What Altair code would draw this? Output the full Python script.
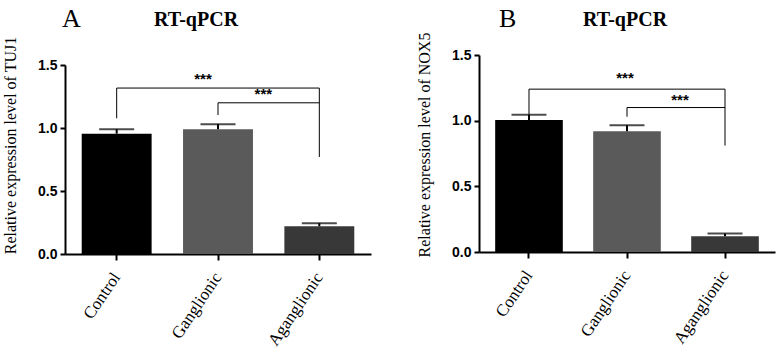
import altair as alt
import pandas as pd

categories = ["Control", "Ganglionic", "Aganglionic"]
bar_colors = ["#000000", "#5a5a5a", "#383838"]

tuj1_mean = [0.955, 0.99, 0.22]
tuj1_err = [0.035, 0.04, 0.025]
nox5_mean = [1.005, 0.92, 0.12]
nox5_err = [0.04, 0.045, 0.02]

# significance brackets: (from, to, height)
tuj1_bracket_h = [("Control", "Aganglionic", 1.317), ("Ganglionic", "Aganglionic", 1.20)]
tuj1_bracket_v = [("Control", 1.077, 1.317), ("Aganglionic", 0.77, 1.317), ("Ganglionic", 1.103, 1.20)]
tuj1_stars = [1.39, 1.27]

nox5_bracket_h = [("Control", "Aganglionic", 1.24), ("Ganglionic", "Aganglionic", 1.10)]
nox5_bracket_v = [("Control", 1.044, 1.24), ("Aganglionic", 0.81, 1.24), ("Ganglionic", 1.03, 1.10)]
nox5_stars = [1.325, 1.158]

SERIF = "Liberation Serif"
SANS = "Liberation Sans"


def panel(mean, err, bh, bv, stars, ytitle, letter, width, height, yrange, title_y, star_dx, title_dx):
    df = pd.DataFrame({"cat": categories, "mean": mean, "err": err})
    df["top"] = df["mean"] + df["err"]
    xscale = alt.Scale(domain=categories, paddingInner=0.31, paddingOuter=0.165)
    x = alt.X("cat:N", sort=categories, scale=xscale, title=None,
              axis=alt.Axis(labelAngle=-56, labelFont=SERIF, labelFontSize=17,
                            labelColor="black", labelAlign="right", labelBaseline="middle",
                            labelPadding=14, domainColor="black", domainWidth=2,
                            tickColor="black", tickWidth=2, tickSize=6))
    y = alt.Y("mean:Q", scale=alt.Scale(domain=[0, 1.5], nice=False, range=yrange),
              axis=alt.Axis(values=[0, 0.5, 1.0, 1.5], format=".1f", grid=False,
                            labelFont=SANS, labelFontWeight="bold", labelFontSize=14,
                            labelColor="black", labelPadding=3,
                            domainColor="black", domainWidth=2, tickColor="black",
                            tickWidth=2, tickSize=5, title=ytitle, titleFont=SERIF,
                            titleFontSize=16, titleFontWeight="normal", titleColor="black",
                            titlePadding=19, titleY=title_y))
    base = alt.Chart(df)
    bars = base.mark_bar().encode(
        x=x, y=y,
        color=alt.Color("cat:N", scale=alt.Scale(domain=categories, range=bar_colors), legend=None),
    )
    erule = base.mark_rule(color="black", strokeWidth=2).encode(
        x=alt.X("cat:N", sort=categories), y="mean:Q", y2="top:Q")
    cap = base.mark_tick(color="black", thickness=2, size=35).encode(
        x=alt.X("cat:N", sort=categories), y="top:Q")

    hdf = pd.DataFrame(bh, columns=["a", "b", "h"])
    hrules = alt.Chart(hdf).mark_rule(color="black", strokeWidth=1).encode(
        x=alt.X("a:N", sort=categories), x2="b:N", y="h:Q")
    vdf = pd.DataFrame(bv, columns=["c", "lo", "hi"])
    vrules = alt.Chart(vdf).mark_rule(color="black", strokeWidth=1).encode(
        x=alt.X("c:N", sort=categories), y="lo:Q", y2="hi:Q")

    s1 = alt.Chart(pd.DataFrame({"c": ["Ganglionic"], "y": [stars[0]]})).mark_text(
        text="***", font=SANS, fontWeight="bold", fontSize=15, color="black",
        dx=star_dx[0], baseline="middle").encode(x=alt.X("c:N", sort=categories), y="y:Q")
    s2 = alt.Chart(pd.DataFrame({"c": ["Aganglionic"], "y": [stars[1]]})).mark_text(
        text="***", font=SANS, fontWeight="bold", fontSize=15, color="black",
        dx=star_dx[1], baseline="middle").encode(x=alt.X("c:N", sort=categories), y="y:Q")

    letter_mark = alt.Chart(pd.DataFrame({"t": [letter[0]]})).mark_text(
        font=SERIF, fontSize=26, align="left", baseline="alphabetic", color="black").encode(
        text="t:N", x=alt.value(letter[1]), y=alt.value(letter[2]))
    title_mark = alt.Chart(pd.DataFrame({"t": ["RT-qPCR"]})).mark_text(
        font=SERIF, fontSize=20, fontWeight="bold", align="center", baseline="alphabetic",
        color="black").encode(
        text="t:N", x=alt.value(width / 2 + title_dx), y=alt.value(letter[2] - 1))

    return alt.layer(bars, erule, cap, hrules, vrules, s1, s2, letter_mark, title_mark).properties(
        width=width, height=height)


pa = panel(tuj1_mean, tuj1_err, tuj1_bracket_h, tuj1_bracket_v, tuj1_stars,
           "Relative expression level of TUJ1", ("A", -3, -28), 306, 199, [199, 10],
           90, (-15, -56), -22)
pb = panel(nox5_mean, nox5_err, nox5_bracket_h, nox5_bracket_v, nox5_stars,
           "Relative expression level of NOX5", ("B", 20, -28), 296, 197, [197, 0],
           89.5, (-2, -45), -2)

chart = alt.hconcat(pa, pb, spacing=45).properties(
    padding={"left": 2, "top": 6, "right": 2, "bottom": 2}, background="white"
).configure_view(stroke="transparent", strokeWidth=0)

chart.save("out.html", embed_options={"renderer": "svg", "actions": False})
